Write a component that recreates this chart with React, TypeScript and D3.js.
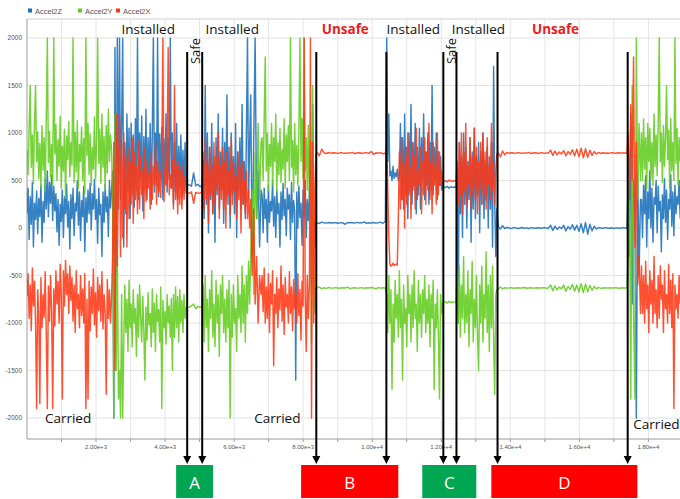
import React from "react";
import * as d3 from "d3";

// ---------- data ----------
const SERIES_NAMES = ["Accel2Z", "Accel2Y", "Accel2X"];

// recording phases (x units): samples of each phase are spread evenly over it
const SEGMENTS = [
  [0, 2450], [2480, 2650], [2680, 4610], [4640, 5075], [5100, 6450],
  [6480, 6780], [6810, 8180], [8210, 8370], [8400, 10380], [10420, 12040],
  [12070, 12430], [12460, 13610], [13650, 17380], [17410, 17770], [17800, 18920],
];

const ACCEL2Z = [
  [150, 420, -120, 330, 40, 480, -200, 260, 90, 390,
   -60, 310, 120, 450, -150, 280, 60, 520, 200, 600,
   120, 480, 260, 560, 80, 440, 180, 360, -40, 300,
   -180, 250, 70, 400, -100, 330, 150, 460, 10, 280,
   -220, 350, 100, 420, -80, 260, 180, 500, 30, 380,
   -130, 290, 120, 440, -250, 320, 60, 400, 150, 470,
   -20, 360, 200, 510, 90, 300, -160, 420, 140, 250,
   -300, 380, 60, 460, 170, 330, -90, 500, 210, 400],
  [600, -2000, 1900, -500, 2000, 200],
  [2000, 300, 1100, 2000, -200, 900, 150, 1200, 400, 1050,
   100, 1100, 350, 980, 220, 1150, 400, 2000, 300, 1000,
   520, 1180, 180, 960, 420, 1250, 300, 950, 480, 1100,
   250, 1020, 2000, 380, 1000, 450, 2000, 330, 990, 520,
   1060, 300, 940, 470, 1200, 380, 940, 510, 2000, 420,
   1000, 250, 900, 380, 1100, 300, 860, 420, 980, 330,
   820, 400, 900, 460],
  [450, 455, 440, 580, 445, 460, 435, 450],
  [700, 100, 1500, 250, 1000, -50, 850, 300, 1100, 150,
   750, -150, 950, 350, 1200, 200, 800, 400, 1050, 50,
   900, 300, 1400, 250, 850, 0, 1000, 350, 750, 150,
   1100, -100, 800, 400, 950, 200, 1300, 250, 700, 100,
   1000, 2000, 300, 900],
  [1400, -300, 900, 2000, 100, 600, -200, 400],
  [350, -50, 420, 100, 300, -150, 450, 60, 280, 180,
   500, 20, 330, -100, 400, 150, 260, -200, 380, 90,
   470, 130, 300, -80, 420, 200, 350, -120, 480, 60,
   290, 170, -1600, 380, 0, 440, 110, 260, -180, 400,
   120, 500, -100, 300, 80, 350],
  [800, -600, 1300, 300, -200, 60],
  [55, 48, 62, 55, 52, 58, 54, 56, 55, 50,
   57, 53, 40, 58, 55, 56, 52, 60, 54, 55,
   65, 50, 56, 54, 58, 52, 55, 62, 50, 70],
  [2000, 700, 1200, 550, 600, 500, 650, 520, 580, 540,
   620, 500, 560, 1100, 300, 950, 200, 1200, 350, 850,
   100, 1000, 400, 1300, 250, 900, 450, 1100, 150, 850,
   350, 1050, 200, 950, 500, 1200, 300, 800, 450, 1000,
   250, 900, 400, 1500, 350, 850, 500, 1000, 300, 800,
   450, 750, 400, 480],
  [430, 425, 440, 420, 435, 428, 432, 430],
  [600, -1000, 900, 150, 750, -100, 1000, 250, 850, 0,
   700, 300, 950, -150, 800, 200, 1050, 100, 750, 350,
   900, -50, 800, 250, 1000, 100, 700, 300, 850, 0,
   750, 200, 900, -200, 1700, 300, -300, 200],
  [15, -10, 25, -5, 8, 0, -6, 5, 2, -4,
   0, 6, -3, 2, -7, 4, 0, -2, 3, 1,
   -2, 5, 0, -4, 30, -25, 20, -15, 12, -5,
   28, -30, 15, -12, 35, -22, 30, -35, 45, -50,
   60, -65, 40, -30, 20, -10, 5, 0, -3, 4,
   0, -2, 3, -5, 2, 0, -3, 4, 0, -4],
  [400, -300, 1200, -800, 500, 200, -2000, 600, -500, 300],
  [300, -100, 450, 150, 550, -200, 380, 100, 600, 0,
   420, -150, 320, 250, 500, -50, 440, 180, 280, -250,
   350, 100, 520, 60, 400, -120, 300, 200, 560, 20,
   380, -80, 450, 150, 330, 250, 500, 100],
];

const ACCEL2Y = [
  [820, 560, 1050, 1500, 640, 980, 470, 1120, 1500, 700,
   1010, 520, 890, 430, 1080, 610, 950, 380, 1150, 2000,
   690, 1020, 540, 880, 460, 2000, 780, 1090, 500, 930,
   650, 1180, 420, 860, 600, 1040, 310, 970, 720, 1120,
   540, 900, 660, 2000, 480, 1010, 590, 1130, 420, 880,
   700, 1060, 500, 940, 360, 2000, 760, 1100, 560, 990,
   450, 850, 620, 1170, 520, 920, 2000, 680, 1040, 470,
   1200, 640, 960, 400, 1080, 580, 1250, 700, 980, 820],
  [300, -2000, 1200, -1500, -300, -1800],
  [-1500, -2000, -700, -2000, -1200, -600, -1100, -750, -1300, -550,
   -1050, -800, -1250, -650, -1000, -850, -1350, -700, -1150, -600,
   -950, -1200, -720, -1080, -1600, -830, -1180, -680, -1020, -900,
   -1250, -640, -1100, -790, -1300, -700, -980, -860, -1200, -620,
   -1900, -760, -1050, -880, -1220, -700, -1000, -820, -1150, -740,
   -1500, -700, -1150, -620, -1050, -720, -1200, -650, -1000, -760,
   -1100, -700, -950, -830],
  [-830, -835, -820, -800, -850, -825, -830, -835],
  [-600, -1200, -500, -1050, -750, -1300, -650, -950, -450, -1150,
   -800, -1250, -550, -1000, -700, -1350, -600, -900, -500, -1100,
   -750, -1200, -650, -1050, -550, -2000, -700, -1150, -600, -1000,
   -850, -1300, -500, -950, -700, -1100, -400, -1000, -600, -1200,
   -500, -900, -350, -800],
  [-300, 400, -700, 800, 100, 1100, 300, 900],
  [950, 500, 1150, 1800, 600, 1000, 400, 880, 650, 1100,
   450, 950, 700, 1200, 380, 900, 560, 1050, 480, 830,
   620, 1150, 420, 980, 700, 1080, 500, 2000, 640, 920,
   380, 1100, 560, 870, 450, 1000, 2000, 700, 1150, 520,
   2000, 600, 950, 400, 1080, 300],
  [900, -1200, 1500, -300, -900, -630],
  [-630, -620, -640, -628, -635, -625, -632, -630, -627, -633,
   -630, -629, -631, -622, -638, -630, -628, -632, -630, -627,
   -635, -629, -631, -625, -630, -640, -626, -632, -628, -630],
  [-700, -1100, -500, -1000, -650, -1700, -800, -1200, -550, -950,
   -700, -1150, -450, -1050, -750, -1600, -600, -1000, -850, -1250,
   -500, -900, -700, -1200, -600, -1050, -450, -950, -800, -1300,
   -550, -1000, -700, -1150, -650, -900, -500, -1100, -750, -1000,
   -600, -1250, -700, -950, -550, -1700, -800, -1050, -650, -1150,
   -1800, -700, -900, -780],
  [-780, -775, -790, -770, -785, -778, -782, -780],
  [-500, -1000, -400, -1150, -600, -950, -300, -1100, -700, -1000,
   -450, -1250, -650, -900, -350, -1200, -750, -1050, -500, -1150,
   -1500, -600, -1000, -400, -1200, -700, -950, -250, -1100, -600,
   -1300, -500, -1050, -400, -1200, -1750, -700, -650],
  [-645, -620, -640, -628, -632, -630, -627, -633, -630, -629,
   -631, -630, -626, -634, -630, -628, -632, -630, -629, -631,
   -630, -627, -633, -630, -600, -660, -610, -650, -620, -640,
   -600, -665, -615, -645, -595, -665, -600, -670, -585, -680,
   -590, -670, -605, -655, -615, -640, -625, -635, -630, -628,
   -632, -629, -631, -630, -627, -633, -630, -629, -631, -630],
  [-300, 600, -1800, 1500, -900, -1800, 2000, 300, 1100, 500],
  [1000, 500, 1150, 620, 950, 420, 1100, 700, 1050, 520,
   900, 450, 1200, 650, 980, 550, 1120, 2000, 700, 1000,
   480, 1080, 650, 950, 1500, 720, 1030, 420, 1150, 600,
   900, 500, 2000, 680, 1050, 450, 950, 700],
];

const ACCEL2X = [
  [-720, -480, -950, -600, -1080, -420, -820, -560, -1000, -1900,
   -650, -900, -1850, -520, -1050, -700, -940, -460, -1120, -1900,
   -610, -980, -500, -870, -1900, -640, -1030, -450, -800, -560,
   -1000, -380, -720, -1800, -450, -820, -340, -700, -480, -900,
   -400, -760, -520, -980, -600, -1100, -450, -850, -700, -1050,
   -500, -920, -640, -1000, -480, -1900, -750, -1800, -560, -1080,
   -620, -900, -430, -1020, -680, -1150, -520, -870, -600, -980,
   -460, -1060, -700, -890, -1750, -540, -950, -650, -1000, -720],
  [-300, 900, -1500, 1200, -400, 600],
  [1200, -300, 900, -100, 1000, 200, 750, -200, 850, 100,
   700, 250, 950, 50, 800, 300, 650, 150, 900, 200,
   750, 350, 600, 100, 850, 280, 700, 420, 580, 200,
   800, 300, 650, 450, 900, 250, 700, 380, 600, 320,
   750, 2000, 280, 620, 450, 780, 1900, 350, 560, 420,
   720, 200, 1500, 300, 650, 150, 700, 250, 600, 200,
   650, 300, 550, 370],
  [370, 365, 380, 260, 375, 365, 370, 380],
  [800, 200, 950, 300, 700, 50, 850, 350, 650, 150,
   900, 250, 750, 400, 1000, 100, 650, 300, 850, 200,
   700, 0, 800, 350, 600, 150, 950, 250, 700, 400,
   550, 100, 800, 300, 650, -50, 700, 250, 500, 150,
   600, 100, 400, 0],
  [300, -500, 200, -800, -300, -1000, -500, -700],
  [-500, -880, -420, -1000, -620, -950, -480, -1100, -580, -800,
   -450, -1450, -700, -900, -520, -1050, -640, -860, -400, -980,
   -600, -1120, -520, -830, -700, -1000, -460, -900, -620, -1080,
   -540, -850, -700, -1000, -480, -920, -650, -1180, -560, -820,
   2000, -700, -1300, -500, -950, -600],
  [2000, -2000, 900, -1000, 400, 780],
  [800, 760, 830, 790, 785, 795, 788, 792, 790, 786,
   794, 790, 788, 791, 789, 796, 784, 790, 792, 788,
   790, 794, 786, 805, 775, 792, 788, 795, 780, 790],
  [900, 400, -100, -380, -400, -390, -370, -395, -385, -380,
   -390, 100, 800, 200, 950, 300, 700, 0, 850, 250,
   1000, 350, 650, 100, 900, 400, 750, 200, 1050, 300,
   600, 450, 850, 150, 700, 350, 950, 250, 800, 400,
   1100, 300, 700, 150, 900, 450, 650, 250, 1000, 350,
   800, 450, 600, 500],
  [490, 500, 485, 505, 495, 492, 498, 495],
  [700, 250, 900, 350, 1000, 150, 800, 400, 1100, 250,
   650, 450, 950, 200, 750, 350, 1050, 300, 850, 150,
   700, 400, 900, 250, 1000, 350, 800, 200, 950, 450,
   650, 300, 1100, 400, 700, 250, 600, 780],
  [790, 750, 810, 770, 795, 788, 792, 790, 786, 794,
   790, 788, 791, 789, 796, 784, 790, 792, 788, 790,
   794, 786, 790, 789, 820, 765, 810, 770, 800, 780,
   815, 760, 805, 775, 825, 760, 830, 750, 840, 740,
   835, 745, 820, 765, 805, 780, 795, 785, 792, 788,
   790, 786, 794, 790, 788, 792, 789, 791, 790, 787],
  [1000, 300, 1300, 500, 1800, -200, 900, -600, -300, -900],
  [-400, -900, -500, -1000, -350, -850, -600, -1100, -450, -800,
   -550, -1000, -300, -900, -650, -1050, -500, -950, -400, -750,
   -600, -1100, -450, -850, -700, -1000, -380, -900, -550, -1050,
   -480, -1900, -600, -850, -700, -950, -500, -800],
];

const Y_TICKS = [2000, 1500, 1000, 500, 0, -500, -1000, -1500, -2000];
const X_TICKS = [2000, 4000, 6000, 8000, 10000, 12000, 14000, 16000, 18000];
const X_GRID = [1000, 2000, 3000, 4000, 5000, 6000, 7000, 8000, 9000, 10000, 11000, 12000, 13000, 14000, 15000, 16000, 17000, 18000];

// annotation data (x units)
const MARKERS = [4640, 5075, 8380, 10410, 12060, 12440, 13630, 17400];
const BOX_LABELS = ["A", "B", "C", "D"];
const BOX_SPANS = [[4320, 5390], [7940, 10755], [11450, 13015], [13450, 17680]];
const BOX_UNSAFE = [false, true, false, true];
const INSTALLED_AT = [3510, 5945, 11190, 13075];
const UNSAFE_AT = [9220, 15310];
const SAFE_AT = [4840, 12260];
const CARRIED_AT = [1190, 7250, 18235];

// ---------- layout ----------
const W = 680, H = 499;
const PLOT = { left: 27, right: 680.5, top: 19, bottom: 439 };
const COLORS = ["#1a6fb8", "#62cc1e", "#ff3814"];
const FONT = "'Open Sans', 'Noto Sans', sans-serif";
const AXFONT = "'Liberation Sans', Arial, sans-serif";

function toPoints(segVals: number[][]): [number, number][] {
  const pts: [number, number][] = [];
  segVals.forEach((vals, j) => {
    const [t0, t1] = SEGMENTS[j];
    const pos = d3.scaleLinear().domain([0, Math.max(1, vals.length - 1)]).range([t0, t1]);
    vals.forEach((v, k) => pts.push([pos(k), v]));
  });
  return pts;
}

export default function App() {
  const x = d3.scaleLinear().domain([0, 18930]).range([PLOT.left, PLOT.right]);
  const y = d3.scaleLinear().domain([-2220, 2200]).range([PLOT.bottom, PLOT.top]);
  const series = [ACCEL2Z, ACCEL2Y, ACCEL2X].map(toPoints);
  const line = d3
    .line<[number, number]>()
    .x((d) => x(d[0]))
    .y((d) => y(d[1]));

  const lineTop = 52;
  const arrowTip = 464;
  const boxTop = 465;
  const boxBottom = 498;
  const carriedY = [423, 423, 429];

  return (
    <svg
      width={W}
      height={H}
      style={{ position: "absolute", left: 0, top: 0, display: "block", background: "#fff" }}
    >
      <defs>
        <clipPath id="plotclip">
          <rect x={PLOT.left} y={PLOT.top} width={PLOT.right - PLOT.left} height={PLOT.bottom - PLOT.top} />
        </clipPath>
      </defs>

      {/* legend */}
      {SERIES_NAMES.map((n, i) => {
        const lx = [28, 78, 116][i];
        return (
          <g key={n}>
            <rect x={lx} y={8.5} width={4} height={4} fill={COLORS[i]} />
            <text x={lx + 7} y={13.5} fontSize={7.5} fill="#555" fontFamily={AXFONT}>
              {n}
            </text>
          </g>
        );
      })}

      {/* grid */}
      {Y_TICKS.map((t) => (
        <line key={"gy" + t} x1={PLOT.left} x2={PLOT.right} y1={y(t)} y2={y(t)} stroke="#e2e2e2" strokeWidth={1} />
      ))}
      {X_GRID.map((t) => (
        <line key={"gx" + t} x1={x(t)} x2={x(t)} y1={PLOT.top} y2={PLOT.bottom} stroke="#e6e6e6" strokeWidth={1} />
      ))}
      <line x1={PLOT.left} x2={PLOT.right} y1={PLOT.top} y2={PLOT.top} stroke="#d0d0d0" />
      <line x1={PLOT.left} x2={PLOT.left} y1={PLOT.top} y2={PLOT.bottom} stroke="#9a9a9a" />
      <line x1={PLOT.left} x2={PLOT.right} y1={PLOT.bottom} y2={PLOT.bottom} stroke="#9a9a9a" />
      {X_GRID.map((t) => (
        <line key={"tx" + t} x1={x(t)} x2={x(t)} y1={PLOT.bottom} y2={PLOT.bottom + 3} stroke="#9a9a9a" />
      ))}

      {/* y tick labels */}
      {Y_TICKS.map((t) => (
        <text key={"ly" + t} x={22} y={y(t) + 2.3} textAnchor="end" fontSize={6.5} fill="#555" fontFamily={AXFONT}>
          {t}
        </text>
      ))}
      {/* x tick labels */}
      {X_TICKS.map((t) => (
        <text key={"lx" + t} x={x(t)} y={449} textAnchor="middle" fontSize={6} fill="#555" fontFamily={AXFONT}>
          {d3.format(".2e")(t)}
        </text>
      ))}

      {/* series */}
      <g clipPath="url(#plotclip)">
        {series.map((s, i) => (
          <path
            key={SERIES_NAMES[i]}
            d={line(s) || ""}
            fill="none"
            stroke={COLORS[i]}
            strokeWidth={1.45}
            strokeOpacity={0.88}
            strokeLinejoin="round"
          />
        ))}
      </g>

      {/* state labels */}
      {INSTALLED_AT.map((t, i) => (
        <text key={"in" + i} x={x(t)} y={34} textAnchor="middle" fontSize={13.5} fill="#111" fontFamily={FONT}>
          Installed
        </text>
      ))}
      {UNSAFE_AT.map((t, i) => (
        <text key={"un" + i} x={x(t)} y={34} textAnchor="middle" fontSize={13.5} fontWeight="bold" fill="#ee1c1c" fontFamily={FONT}>
          Unsafe
        </text>
      ))}
      {SAFE_AT.map((t, i) => (
        <text
          key={"sa" + i}
          transform={`translate(${x(t) + 6},${51}) rotate(-90)`}
          textAnchor="middle"
          fontSize={13}
          fill="#111"
          fontFamily={FONT}
        >
          Safe
        </text>
      ))}
      {CARRIED_AT.map((t, i) => (
        <text key={"ca" + i} x={x(t)} y={carriedY[i]} textAnchor="middle" fontSize={13.5} fill="#111" fontFamily={FONT}>
          Carried
        </text>
      ))}

      {/* marker lines with arrows */}
      {MARKERS.map((t, i) => {
        const mx = x(t);
        return (
          <g key={"mk" + i}>
            <line x1={mx} x2={mx} y1={lineTop} y2={arrowTip - 6} stroke="#000" strokeWidth={2} />
            <path d={`M${mx - 4},${arrowTip - 8} L${mx + 4},${arrowTip - 8} L${mx},${arrowTip} Z`} fill="#000" />
          </g>
        );
      })}

      {/* boxes */}
      {BOX_LABELS.map((lab, i) => {
        const [a, b] = BOX_SPANS[i];
        const x0 = x(a), x1 = x(b);
        return (
          <g key={"bx" + lab}>
            <rect x={x0} y={boxTop} width={x1 - x0} height={boxBottom - boxTop} fill={BOX_UNSAFE[i] ? "#ff0000" : "#00a651"} />
            <text x={(x0 + x1) / 2} y={489} textAnchor="middle" fontSize={17} fill="#fff" fontFamily={FONT}>
              {lab}
            </text>
          </g>
        );
      })}
    </svg>
  );
}
